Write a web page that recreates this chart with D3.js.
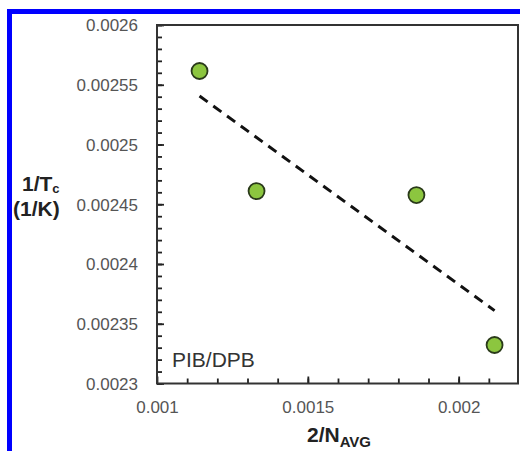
<!DOCTYPE html>
<html>
<head>
<meta charset="utf-8">
<script src="https://cdn.jsdelivr.net/npm/d3@7"></script>
<style>
  body { margin: 0; background: #fff; }
  svg { display: block; }
</style>
</head>
<body>
<div id="chart"></div>
<script>
// Data
var xValues = [0.001141, 0.00133, 0.00186, 0.002119];
var yValues = [0.0025615, 0.002461, 0.0024577, 0.0023322];
// dashed trend line end points
var trendX = [0.001141, 0.002119];
var trendY = [0.0025406, 0.002361];

var xTicks = [0.001, 0.0015, 0.002];
var xTickLabels = ["0.001", "0.0015", "0.002"];
var yTicks = [0.0023, 0.00235, 0.0024, 0.00245, 0.0025, 0.00255, 0.0026];
var yTickLabels = ["0.0023", "0.00235", "0.0024", "0.00245", "0.0025", "0.00255", "0.0026"];
var xMinor = d3.range(11, 22).map(function(d) { return d / 10000; });
var yMinor = d3.range(230, 261).map(function(d) { return d / 100000; });

// Canvas
var width = 520, height = 451;
var margin = {top: 25, right: 1, bottom: 67.5, left: 157};

var svg = d3.select("#chart").append("svg")
    .attr("width", width)
    .attr("height", height);

// blue frame
svg.append("path")
    .attr("d", "M 9.5 " + height + " L 9.5 11.5 L " + width + " 11.5")
    .attr("fill", "none")
    .attr("stroke", "#0000ff")
    .attr("stroke-width", 5);

var x = d3.scaleLinear().domain([0.001, 0.0022]).range([margin.left, width - margin.right]);
var y = d3.scaleLinear().domain([0.0023, 0.0026]).range([height - margin.bottom, margin.top]);

var font = "'Liberation Sans', Arial, sans-serif";

// minor ticks
svg.append("g")
    .attr("transform", "translate(0," + y(0.0023) + ")")
    .call(d3.axisBottom(x).tickValues(xMinor).tickSize(-5).tickFormat(""))
    .call(function(g) { g.select(".domain").remove(); })
    .selectAll("line").attr("stroke", "#222").attr("stroke-width", 1.8);

svg.append("g")
    .attr("transform", "translate(" + x(0.001) + ",0)")
    .call(d3.axisLeft(y).tickValues(yMinor).tickSize(-5).tickFormat(""))
    .call(function(g) { g.select(".domain").remove(); })
    .selectAll("line").attr("stroke", "#222").attr("stroke-width", 1.8);

// major ticks + labels
var xAxis = svg.append("g")
    .attr("transform", "translate(0," + y(0.0023) + ")")
    .call(d3.axisBottom(x).tickValues(xTicks).tickSize(-7)
        .tickFormat(function(d, i) { return xTickLabels[i]; }));
xAxis.select(".domain").remove();
xAxis.selectAll("line").attr("stroke", "#222").attr("stroke-width", 1.8);
xAxis.selectAll("text")
    .attr("y", 29.5)
    .attr("dy", 0)
    .style("font-family", font)
    .style("font-size", "17px")
    .attr("fill", "#555");

var yAxis = svg.append("g")
    .attr("transform", "translate(" + x(0.001) + ",0)")
    .call(d3.axisLeft(y).tickValues(yTicks).tickSize(-7)
        .tickFormat(function(d, i) { return yTickLabels[i]; }));
yAxis.select(".domain").remove();
yAxis.selectAll("line").attr("stroke", "#222").attr("stroke-width", 1.8);
yAxis.selectAll("text")
    .attr("x", -19)
    .attr("dy", "0.35em")
    .style("font-family", font)
    .style("font-size", "17px")
    .attr("fill", "#555");

// plot frame
svg.append("rect")
    .attr("x", x(0.001))
    .attr("y", y(0.0026))
    .attr("width", x(0.0022) - x(0.001) - 1)
    .attr("height", y(0.0023) - y(0.0026))
    .attr("fill", "none")
    .attr("stroke", "#333")
    .attr("stroke-width", 2);

// trend line
svg.append("path")
    .datum(d3.zip(trendX, trendY))
    .attr("d", d3.line().x(function(d) { return x(d[0]); }).y(function(d) { return y(d[1]); }))
    .attr("fill", "none")
    .attr("stroke", "#111")
    .attr("stroke-width", 3)
    .attr("stroke-dasharray", "10,7");

// points
svg.selectAll("circle.pt")
    .data(d3.zip(xValues, yValues))
    .enter().append("circle")
    .attr("class", "pt")
    .attr("cx", function(d) { return x(d[0]); })
    .attr("cy", function(d) { return y(d[1]); })
    .attr("r", 8)
    .attr("fill", "#8cc63f")
    .attr("stroke", "#2a3a1a")
    .attr("stroke-width", 1.8);

// label
svg.append("text")
    .attr("x", 172)
    .attr("y", 367)
    .style("font-family", font)
    .style("font-size", "21px")
    .attr("fill", "#333")
    .text("PIB/DPB");

// axis titles
var xt = svg.append("text")
    .attr("x", 339)
    .attr("y", 442)
    .attr("text-anchor", "middle")
    .style("font-family", font)
    .style("font-size", "21px")
    .style("font-weight", "bold")
    .attr("fill", "#222");
xt.append("tspan").text("2/N");
xt.append("tspan").attr("dy", 5).style("font-size", "15px").text("AVG");

// y title, two lines
var yt1 = svg.append("text")
    .attr("x", 22)
    .attr("y", 191)
    .style("font-family", font)
    .style("font-size", "21px")
    .style("font-weight", "bold")
    .attr("fill", "#222");
yt1.append("tspan").text("1/T");
yt1.append("tspan").attr("dy", 2).style("font-size", "13px").text("c");

svg.append("text")
    .attr("x", 13)
    .attr("y", 216)
    .style("font-family", font)
    .style("font-size", "21px")
    .style("font-weight", "bold")
    .attr("fill", "#222")
    .text("(1/K)");
</script>
</body>
</html>
